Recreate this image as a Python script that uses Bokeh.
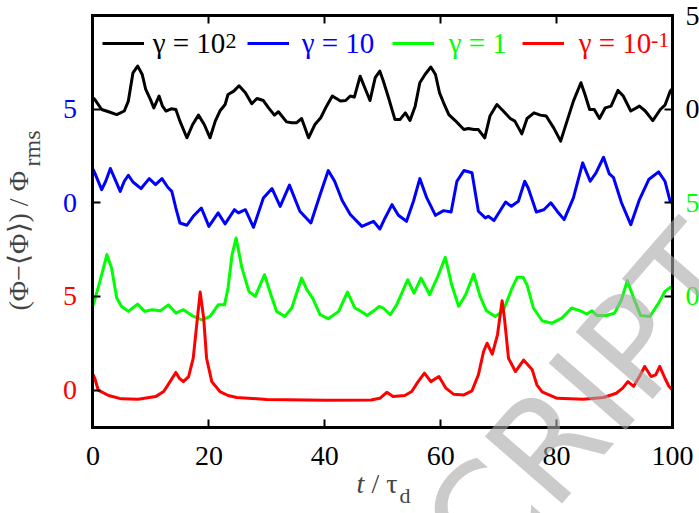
import math
from bokeh.plotting import figure
from bokeh.models import (LinearAxis, FixedTicker, Range1d, Label, Legend, LegendItem)
from bokeh.core.properties import value
from bokeh.embed import file_html
from bokeh.resources import INLINE

# ---------------- data ----------------
t_black = [0.0, 0.3, 1.5, 2.7, 4.1, 5.4, 6.1, 6.9, 7.7, 8.5, 9.1, 9.9, 10.5, 11.4, 12.0,
           12.6, 13.5, 14.3, 15.0, 16.2, 17.2, 18.2, 19.2, 20.2, 21.1, 21.9, 22.8, 23.3,
           24.3, 25.2, 26.3, 27.4, 28.3, 29.4, 30.3, 31.3, 32.0, 33.4, 34.3, 35.1, 36.0,
           37.2, 38.3, 39.3, 40.3, 41.3, 42.7, 43.6, 44.4, 45.1, 46.1, 46.9, 47.8, 48.7,
           49.5, 50.1, 51.0, 52.1, 53.0, 53.9, 54.7, 55.6, 56.4, 57.3, 58.3, 59.1, 59.8,
           60.5, 61.4, 62.5, 64.0, 64.8, 65.7, 66.5, 67.6, 68.5, 69.7, 70.8, 72.0, 72.8,
           74.0, 74.9, 76.1, 77.2, 78.2, 79.5, 80.7, 81.8, 82.9, 84.2, 84.9, 85.7, 86.5,
           87.4, 88.4, 89.4, 90.6, 91.5, 92.8, 94.3, 95.3, 96.6, 97.9, 98.7, 99.6, 100.0]
v_black = [0.6, 0.52, -0.02, -0.14, -0.29, -0.1, 0.43, 1.94, 2.3, 1.85, 1.05, 0.52, 0.07, 0.7,
           0.16, -0.1, 0.02, -0.02, -0.64, -1.53, -0.82, -0.32, -0.82, -1.53, -0.64, -0.1,
           0.25, 0.78, 0.96, 1.25, 0.87, 0.29, 0.57, 0.46, 0.07, -0.32, -0.14, -0.68, -0.73,
           -0.73, -0.5, -1.53, -0.82, -0.46, 0.16, 0.7, 0.43, 0.46, 0.7, 0.64, 1.76, 1.14,
           0.46, 1.68, 2.03, 1.5, 0.61, -0.55, -0.55, -0.2, -0.61, 0.16, 1.41, 1.85, 2.25,
           1.85, 0.87, 0.34, -0.29, -0.61, -1.09, -1.03, -1.09, -1.09, -1.53, -0.37, 0.25,
           -0.1, -0.5, -0.64, -1.32, -0.5, -0.2, -0.32, -0.37, -1.0, -1.71, -0.64, 0.43,
           1.41, 0.78, -0.02, -0.02, -0.5, 0.07, 0.16, 1.0, 0.7, -0.1, 0.16, -0.1, -0.61,
           -0.02, 0.21, 0.96, 1.1]

t_blue = [0.0, 0.3, 1.5, 2.2, 3.0, 3.7, 4.7, 5.4, 6.1, 6.9, 8.3, 9.7, 10.8, 11.9, 12.9, 13.6,
          14.3, 15.0, 16.2, 17.3, 18.7, 20.0, 21.6, 22.8, 24.4, 25.1, 26.3, 27.7, 29.4, 30.9,
          32.3, 33.9, 35.7, 37.6, 39.2, 40.6, 41.7, 43.0, 44.4, 46.4, 48.4, 49.5, 50.4, 51.6,
          52.7, 54.1, 55.3, 56.4, 57.6, 59.1, 60.5, 61.8, 62.8, 64.0, 65.4, 66.5, 67.7, 68.2,
          69.2, 71.2, 72.2, 73.4, 74.5, 75.1, 76.5, 77.8, 79.0, 80.1, 81.3, 82.9, 84.5, 85.8,
          86.8, 88.1, 89.1, 89.8, 91.2, 92.8, 94.3, 95.9, 97.6, 98.7, 99.6, 100.0]
v_blue = [1.8, 1.6, 0.7, 1.15, 1.83, 1.33, 0.61, 1.15, 1.47, 1.11, 0.76, 1.29, 0.97, 1.29,
          0.83, 0.61, -0.28, -1.08, -1.2, -0.72, -0.28, -1.26, -0.54, -1.13, -0.37, -0.54,
          -0.37, -1.31, 0.26, 0.76, -0.19, 0.94, -0.45, -1.08, 0.44, 1.72, 1.15, 0.12, -0.63,
          -1.26, -0.99, -1.4, -0.81, -0.1, -0.67, -0.99, 0.08, 1.29, 0.26, -0.67, -0.42,
          -0.49, 1.15, 1.72, 1.6, -0.45, -0.81, -0.72, -0.95, 0.04, -0.19, 0.08, 1.15, 0.79,
          -0.49, -0.37, 0.0, -0.45, -0.9, 0.26, 2.13, 1.15, 1.6, 2.43, 1.54, 1.36, 0.0,
          -1.17, 0.17, 1.24, 1.65, 1.15, 0.08, 0.0]

t_green = [0.0, 1.2, 2.4, 3.2, 4.1, 4.9, 6.1, 7.7, 8.9, 10.2, 11.6, 13.0, 14.3, 15.6, 17.1,
           18.8, 20.2, 21.6, 22.7, 23.3, 24.0, 24.7, 25.7, 26.9, 28.0, 29.6, 30.7, 31.7,
           33.1, 34.3, 36.0, 36.9, 37.9, 39.2, 40.6, 42.4, 43.9, 45.2, 46.1, 47.3, 48.7,
           49.4, 50.1, 51.3, 52.4, 54.3, 55.4, 56.6, 58.1, 59.5, 60.8, 61.9, 63.1, 64.3,
           65.7, 66.8, 67.9, 69.4, 70.8, 72.2, 73.2, 74.2, 74.9, 76.0, 77.5, 79.2, 80.9,
           82.6, 84.1, 85.2, 86.1, 87.0, 88.6, 90.0, 91.2, 92.2, 93.3, 94.5, 96.1, 97.6,
           98.7, 99.6, 100.0]
v_green = [-0.5, 0.8, 2.23, 1.52, -0.09, -0.53, -0.8, -0.41, -0.8, -0.71, -0.77, -0.45,
           -0.89, -0.71, -1.02, -1.25, -1.07, -0.45, -0.45, 0.45, 2.23, 3.12, 1.52, 0.27,
           0.0, 1.16, 0.09, -0.8, -1.07, -0.62, 0.98, 0.36, -0.09, -0.98, -1.19, -0.8, 0.23,
           -0.62, -0.77, -1.02, -0.71, -0.53, -0.62, -0.98, -0.45, 0.89, 0.18, 0.98, 0.09,
           1.07, 2.09, 0.62, -0.53, 0.09, 1.19, 0.0, -0.77, -1.07, -0.77, 0.36, 1.02, 1.02,
           0.62, -0.62, -1.3, -1.43, -1.16, -0.62, -0.77, -0.94, -0.77, -1.02, -1.02, -0.89,
           -0.18, 0.84, -0.09, -1.02, -1.07, -0.36, 0.27, 0.48, 0.44]

t_red = [0.0, 0.3, 0.9, 2.7, 4.9, 7.8, 10.8, 12.2, 13.3, 14.3, 14.9, 15.6, 16.5, 17.3, 17.9,
         18.5, 19.1, 19.6, 20.5, 21.9, 23.3, 24.8, 30.0, 40.0, 48.0, 49.5, 50.7, 51.8, 53.8,
         55.0, 56.1, 57.2, 58.3, 59.7, 60.9, 62.2, 64.0, 65.4, 66.5, 67.4, 68.0, 68.9, 69.8,
         70.6, 71.0, 71.7, 72.9, 74.3, 75.8, 76.6, 77.5, 80.1, 84.6, 88.1, 90.3, 91.4, 92.3,
         93.3, 94.3, 95.2, 96.3, 97.1, 97.8, 98.7, 99.4, 100.0]
v_red = [0.83, 0.63, 0.0, -0.29, -0.47, -0.49, -0.35, -0.08, 0.45, 0.94, 0.63, 0.45, 0.72,
         1.7, 3.49, 5.23, 3.84, 1.7, 0.45, -0.08, -0.29, -0.4, -0.5, -0.55, -0.53, -0.44,
         -0.12, -0.35, -0.29, -0.08, 0.45, 0.9, 0.45, 0.72, 0.1, -0.22, -0.26, -0.04, 0.81,
         2.06, 2.5, 1.92, 2.95, 4.77, 3.84, 1.7, 0.99, 1.6, 1.08, 0.28, -0.1, -0.44, -0.49,
         -0.4, -0.17, 0.1, 0.45, 0.2, 0.72, 1.26, 0.72, 0.81, 1.26, 0.63, 0.19, 0.0]

# vertical offsets of the stacked series
offsets = {"black": 15, "blue": 10, "green": 5, "red": 0}

x_ticks = [0, 20, 40, 60, 80, 100]
top_ticks = [20, 40, 60, 80]
x_box = (0, 100)
y_box = (-2, 20)
# left axis: two groups of coloured labels
left_blue_ticks, left_blue_text = [10, 15], ["0", "5"]
left_red_ticks, left_red_text = [0, 5], ["0", "5"]
# right axis
right_black_ticks, right_black_text = [15, 20], ["0", "5"]
right_green_ticks, right_green_text = [5, 10], ["0", "5"]

SERIF = "Liberation Serif"

# frame covers the whole canvas; the box is drawn by fixed-location axes
p = figure(width=699, height=513, x_range=Range1d(-15.96, 104.66),
           y_range=Range1d(-6.592, 20.801), output_backend="svg", toolbar_location=None,
           x_axis_location=None, y_axis_location=None, min_border=0,
           background_fill_color="white", border_fill_color="white")
p.grid.visible = False
p.outline_line_color = None


def make_axis(fixed, bounds, ticks, labels, color, standoff, line=True):
    ax = LinearAxis(fixed_location=fixed, bounds=bounds, ticker=FixedTicker(ticks=ticks))
    if line:
        ax.axis_line_color = "black"
        ax.axis_line_width = 3
        ax.axis_line_cap = "square"
    else:
        ax.axis_line_color = None
    ax.major_tick_in = 8
    ax.major_tick_out = 0
    ax.minor_tick_in = 0
    ax.minor_tick_out = 0
    ax.major_tick_line_width = 2
    ax.major_tick_line_color = "black"
    ax.major_label_overrides = {tk: lb for tk, lb in zip(ticks, labels)}
    ax.major_label_text_font = SERIF
    ax.major_label_text_font_size = "28px"
    ax.major_label_text_color = color
    ax.major_label_standoff = standoff
    return ax


p.add_layout(make_axis(y_box[0], x_box, x_ticks, [str(v) for v in x_ticks], "black", 19),
             "below")
p.add_layout(make_axis(y_box[1], x_box, top_ticks, ["" for _ in top_ticks], "black", 0),
             "above")
p.add_layout(make_axis(x_box[0], y_box, left_blue_ticks, left_blue_text, "#0000ff", 16),
             "left")
p.add_layout(make_axis(x_box[0], y_box, left_red_ticks, left_red_text, "#ff0000", 16,
                       line=False), "left")
p.add_layout(make_axis(x_box[1], y_box, right_black_ticks, right_black_text, "#000000", 13),
             "right")
p.add_layout(make_axis(x_box[1], y_box, right_green_ticks, right_green_text, "#00ff00", 13,
                       line=False), "right")

# series
series = [("black", "#000000", t_black, v_black),
          ("blue", "#0000ff", t_blue, v_blue),
          ("green", "#00ff00", t_green, v_green),
          ("red", "#ff0000", t_red, v_red)]
renderers = {}
for name, col, t, v in series:
    y = [vv + offsets[name] for vv in v]
    renderers[name] = p.line(t, y, line_color=col, line_width=3, line_join="round")

# legends (one per entry, so each label keeps its own colour)
leg_specs = [("black", "γ = 10", "#000000", 101.7, 9),
             ("blue", "γ = 10", "#0000ff", 246.7, 13),
             ("green", "γ = 1", "#00ff00", 391.7, 15),
             ("red", "γ = 10", "#ff0000", 521.7, 15)]
for name, lab, col, lx, st in leg_specs:
    leg = Legend(items=[LegendItem(label=value(lab), renderers=[renderers[name]])],
                 location=(lx, 453), orientation="horizontal", glyph_width=42,
                 glyph_height=34, label_height=34, label_standoff=st,
                 label_text_font=SERIF, label_text_font_size="29px",
                 label_text_color=col, padding=0, margin=0, spacing=0,
                 border_line_color=None, background_fill_alpha=0)
    p.add_layout(leg)

p.add_layout(Label(x=225, y=466, x_units="screen", y_units="screen", text="2",
                   text_font=SERIF, text_font_size="22px", text_color="#000000"))
p.add_layout(Label(x=650.5, y=467, x_units="screen", y_units="screen", text="-1",
                   text_font=SERIF, text_font_size="22px", text_color="#ff0000"))

# x axis label: t / τ_d
p.add_layout(Label(x=356, y=15, x_units="screen", y_units="screen", text="t",
                   text_font=SERIF, text_font_style="italic", text_font_size="28px"))
p.add_layout(Label(x=371, y=15, x_units="screen", y_units="screen", text="/ τ",
                   text_font=SERIF, text_font_size="28px"))
p.add_layout(Label(x=399, y=6, x_units="screen", y_units="screen", text="d",
                   text_font=SERIF, text_font_size="22px"))

# y axis label: (Φ−⟨Φ⟩) / Φ_rms
p.add_layout(Label(x=33, y=203, x_units="screen", y_units="screen",
                   text="(Φ−⟨Φ⟩) / Φ", angle=math.pi / 2,
                   text_font=SERIF, text_font_size="28px"))
p.add_layout(Label(x=44, y=347, x_units="screen", y_units="screen", text="rms",
                   angle=math.pi / 2, text_font=SERIF, text_font_size="24px"))

# watermark
p.add_layout(Label(x=585, y=111, x_units="screen", y_units="screen", text="CRIPT",
                   angle=0.855, text_align="center", text_baseline="middle",
                   text_font="DejaVu Sans", text_font_size="140px",
                   text_color="#a8a8a8", text_alpha=0.6))

open("out.html", "w").write(file_html(p, INLINE))
